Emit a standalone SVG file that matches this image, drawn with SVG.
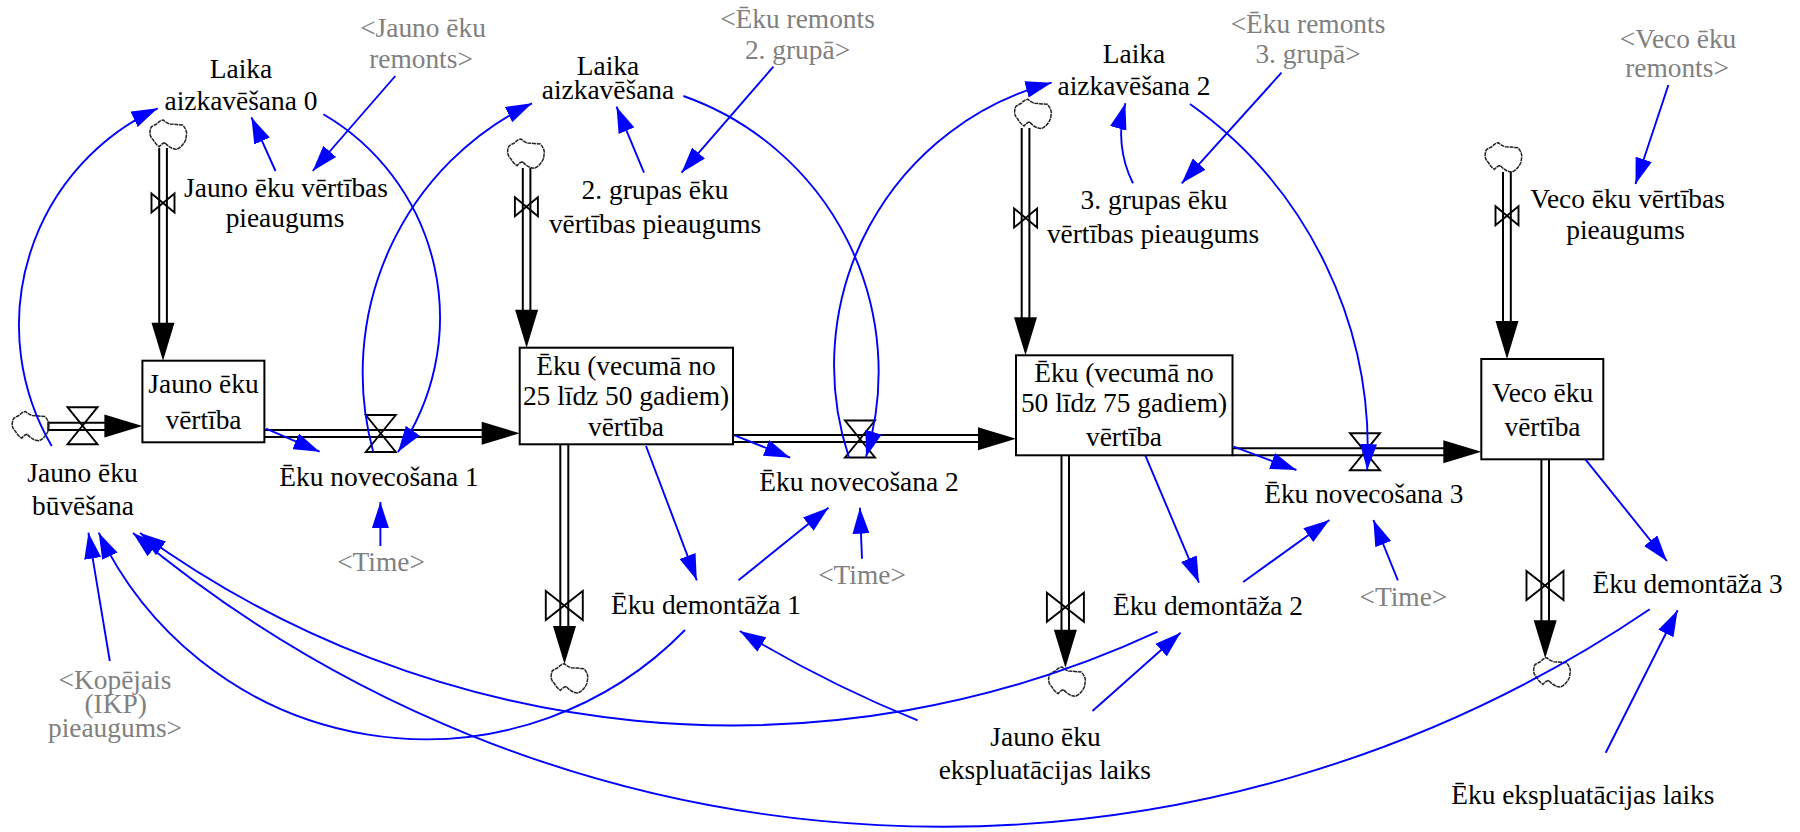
<svg xmlns="http://www.w3.org/2000/svg" xmlns:xlink="http://www.w3.org/1999/xlink" width="1800" height="832" viewBox="0 0 1800 832">
<style>
text{font-family:"Liberation Serif","Times New Roman",serif;font-size:27.4px;text-anchor:middle;fill:#000}
.g text,text.g{fill:#808080}
.stock{fill:#fff;stroke:#000;stroke-width:2}
.pipe{fill:none;stroke:#000;stroke-width:2}
.valve{fill:none;stroke:#000;stroke-width:1.9}
.cloud{fill:none;stroke:#222;stroke-width:1.5;stroke-dasharray:4 .7}
.head{fill:#000;stroke:none}
.link{fill:none;stroke:#0000ff;stroke-width:1.9;marker-end:url(#ah)}
</style>
<defs>
<marker id="ah" markerUnits="userSpaceOnUse" markerWidth="27" markerHeight="17" refX="26" refY="8.5" orient="auto"><path d="M0,0L26,8.5L0,17z" fill="#0000ff"/></marker>
<path id="cl" d="M-3.3,7.7Q-6,8-9,11.7Q-13,9-15,5Q-19,1-18.3,-3.3Q-18,-7-16.7,-8.3Q-14,-10-11.7,-11Q-8,-15-5,-15Q-2,-12,1.7,-11L14.3,-10Q18,-6,18.3,-1.7Q18,2,17.3,5Q14,12,8.3,14.3Q2,14-3.3,7.7Z"/>
<path id="vs" d="M-11.5,-9.5L11.5,9.5V-9.5L-11.5,9.5Z"/>
<path id="vb" d="M-18.5,-14.5L18.5,14.5V-14.5L-18.5,14.5Z"/>
<path id="vh" d="M-15,-18.5H15L-15,18.5H15Z"/>
<path id="hd" d="M0,0L-11.5,-38H11.5Z"/>
<path id="hr" d="M0,0L-38,-11.5V11.5Z"/>
</defs>
<g id="connectors">
<path class="pipe" d="M159.2,148V325M166.9,148V325M522.8,168V312M530.4,168V312M1021.7,128V319M1029.4,128V319M1503,172V323M1510.8,172V323"/>
<path class="pipe" d="M106,422.7H48.3V430H106M264.4,430H484M264.4,437H484M733,435H979M733,442H979M1232.5,448.3H1445M1232.5,455.3H1445"/>
<path class="pipe" d="M560.3,445V627M568.3,445V627M1061.5,456V631M1069,456V631M1541.4,460V622M1549,460V622"/>
<use class="head" href="#hd" x="163" y="360.7"/>
<use class="head" href="#hd" x="526.6" y="347.7"/>
<use class="head" href="#hd" x="1025.5" y="355.3"/>
<use class="head" href="#hd" x="1507" y="359"/>
<use class="head" href="#hr" x="142.4" y="426"/>
<use class="head" href="#hr" x="519.7" y="433.3"/>
<use class="head" href="#hr" x="1016" y="438.7"/>
<use class="head" href="#hr" x="1481.3" y="451.7"/>
<use class="head" href="#hd" x="564.5" y="664"/>
<use class="head" href="#hd" x="1065.4" y="667.7"/>
<use class="head" href="#hd" x="1545.2" y="658.3"/>
</g>
<g id="stock-jauno"><rect class="stock" x="142.4" y="360.7" width="122" height="81.6"/><text x="203.5" y="393">Jauno ēku</text><text x="203.5" y="429">vērtība</text></g>
<g id="stock-25-50"><rect class="stock" x="519.7" y="347.7" width="213.3" height="96.6"/><text x="626" y="375">Ēku (vecumā no</text><text x="626" y="405">25 līdz 50 gadiem)</text><text x="626" y="436">vērtība</text></g>
<g id="stock-50-75"><rect class="stock" x="1016" y="355.3" width="216.5" height="100"/><text x="1124" y="381.7">Ēku (vecumā no</text><text x="1124" y="411.7">50 līdz 75 gadiem)</text><text x="1124" y="446">vērtība</text></g>
<g id="stock-veco"><rect class="stock" x="1481.3" y="359" width="122" height="100.3"/><text x="1542.5" y="401.7">Veco ēku</text><text x="1542.5" y="436">vērtība</text></g>
<g id="clouds">
<use class="cloud" href="#cl" x="168.3" y="135"/>
<use class="cloud" href="#cl" x="526" y="154"/>
<use class="cloud" href="#cl" x="1033" y="114.3"/>
<use class="cloud" href="#cl" x="1503.5" y="157.7"/>
<use class="cloud" href="#cl" x="30.6" y="426.5"/>
<use class="cloud" href="#cl" x="569.5" y="678.7"/>
<use class="cloud" href="#cl" x="1067" y="682"/>
<use class="cloud" href="#cl" x="1552" y="672.7"/>
</g>
<g id="valves">
<use class="valve" href="#vs" x="163" y="203"/>
<use class="valve" href="#vs" x="526.4" y="206.7"/>
<use class="valve" href="#vs" x="1025.6" y="218"/>
<use class="valve" href="#vs" x="1507" y="215.7"/>
<use class="valve" href="#vh" x="82.5" y="425.7"/>
<use class="valve" href="#vh" x="380.8" y="433.5"/>
<use class="valve" href="#vh" x="860" y="439"/>
<use class="valve" href="#vh" x="1365" y="451.7"/>
<use class="valve" href="#vb" x="564.3" y="605.5"/>
<use class="valve" href="#vb" x="1065.4" y="607.3"/>
<use class="valve" href="#vb" x="1545" y="585.5"/>
</g>
<g id="links">
<path class="link" d="M51.7,446A239,239 0 0 1 157.7,108.3"/>
<path class="link" d="M275.5,171L251.4,117.3"/>
<path class="link" d="M395.3,76L312.7,171"/>
<path class="link" d="M323.4,114.3A235.7,235.7 0 0 1 398,452"/>
<path class="link" d="M373,451A299.4,299.4 0 0 1 532,103.3"/>
<path class="link" d="M266,428.7L319.6,451.7"/>
<path class="link" d="M380.4,546V502"/>
<path class="link" d="M109.8,661L88.4,532.7"/>
<path class="link" d="M685,630A362.2,362.2 0 0 1 98.7,532.7"/>
<path class="link" d="M1157.6,631.7A1009.5,1009.5 0 0 1 140,533"/>
<path class="link" d="M1649.7,609.3A1260.9,1260.9 0 0 1 133,533"/>
<path class="link" d="M646,446L696.8,580.3"/>
<path class="link" d="M734.7,435.3L790.2,457.7"/>
<path class="link" d="M738.5,580.3L828.5,507.7"/>
<path class="link" d="M862,558.7L859.9,507.7"/>
<path class="link" d="M917.6,720.3A1237,1237 0 0 1 739.7,631"/>
<path class="link" d="M1092.5,711L1180.6,632.7"/>
<path class="link" d="M1145.3,455.3L1199,582.7"/>
<path class="link" d="M1233.7,446.7L1296.4,470"/>
<path class="link" d="M1243.2,582L1329.4,520"/>
<path class="link" d="M1397.9,580.3L1373.4,520"/>
<path class="link" d="M1585.4,459.3L1666.9,561"/>
<path class="link" d="M1605.7,752.7L1677.6,610.3"/>
<path class="link" d="M1668.4,85L1635.5,184"/>
<path class="link" d="M644,172.7L616.5,106.7"/>
<path class="link" d="M773.4,66.7L681.5,172.7"/>
<path class="link" d="M683.4,96A292.6,292.6 0 0 1 866,457"/>
<path class="link" d="M848.8,457A292.4,292.4 0 0 1 1051.6,82.7"/>
<path class="link" d="M1133,183.3A110,110 0 0 1 1125.4,103.3"/>
<path class="link" d="M1281.5,72.7L1181.7,183.3"/>
<path class="link" d="M1190,104A423,423 0 0 1 1367.2,470"/>
</g>
<g id="aux-laika0"><text x="241" y="78">Laika</text><text x="241" y="110">aizkavēšana 0</text></g>
<g id="shadow-jauno-remonts" class="g"><text x="423" y="36.7">&lt;Jauno ēku</text><text x="421" y="67.7">remonts&gt;</text></g>
<g id="aux-jauno-pieaugums"><text x="286" y="196.7">Jauno ēku vērtības</text><text x="285" y="227">pieaugums</text></g>
<g id="aux-laika"><text x="608" y="75">Laika</text><text x="608" y="98.7">aizkavēšana</text></g>
<g id="shadow-remonts-2" class="g"><text x="797.5" y="27.7">&lt;Ēku remonts</text><text x="797.5" y="59.3">2. grupā&gt;</text></g>
<g id="aux-2-pieaugums"><text x="655" y="199">2. grupas ēku</text><text x="655" y="232.7">vērtības pieaugums</text></g>
<g id="aux-laika2"><text x="1134" y="63.3">Laika</text><text x="1134" y="95">aizkavēšana 2</text></g>
<g id="shadow-remonts-3" class="g"><text x="1308" y="33.3">&lt;Ēku remonts</text><text x="1308" y="63.3">3. grupā&gt;</text></g>
<g id="aux-3-pieaugums"><text x="1154" y="209">3. grupas ēku</text><text x="1153" y="243">vērtības pieaugums</text></g>
<g id="shadow-veco-remonts" class="g"><text x="1678" y="47.5">&lt;Veco ēku</text><text x="1677" y="76.7">remonts&gt;</text></g>
<g id="aux-veco-pieaugums"><text x="1627.5" y="208">Veco ēku vērtības</text><text x="1625.6" y="239">pieaugums</text></g>
<g id="flow-buvesana"><text x="82.5" y="481.7">Jauno ēku</text><text x="83" y="515.3">būvēšana</text></g>
<g id="flow-nov1"><text x="379" y="486">Ēku novecošana 1</text></g>
<g id="flow-nov2"><text x="859" y="490.5">Ēku novecošana 2</text></g>
<g id="flow-nov3"><text x="1363.8" y="503">Ēku novecošana 3</text></g>
<g id="flow-dem1"><text x="706" y="613.7">Ēku demontāža 1</text></g>
<g id="flow-dem2"><text x="1208" y="615">Ēku demontāža 2</text></g>
<g id="flow-dem3"><text x="1687.6" y="593.3">Ēku demontāža 3</text></g>
<g id="shadow-time1" class="g"><text x="381" y="571">&lt;Time&gt;</text></g>
<g id="shadow-time2" class="g"><text x="862" y="584">&lt;Time&gt;</text></g>
<g id="shadow-time3" class="g"><text x="1403.4" y="606">&lt;Time&gt;</text></g>
<g id="shadow-ikp" class="g"><text x="115" y="689">&lt;Kopējais</text><text x="115.6" y="713">(IKP)</text><text x="115" y="737">pieaugums&gt;</text></g>
<g id="aux-jauno-laiks"><text x="1045.5" y="746">Jauno ēku</text><text x="1044.8" y="779">ekspluatācijas laiks</text></g>
<g id="aux-eku-laiks"><text x="1582.8" y="803.7">Ēku ekspluatācijas laiks</text></g>
</svg>
